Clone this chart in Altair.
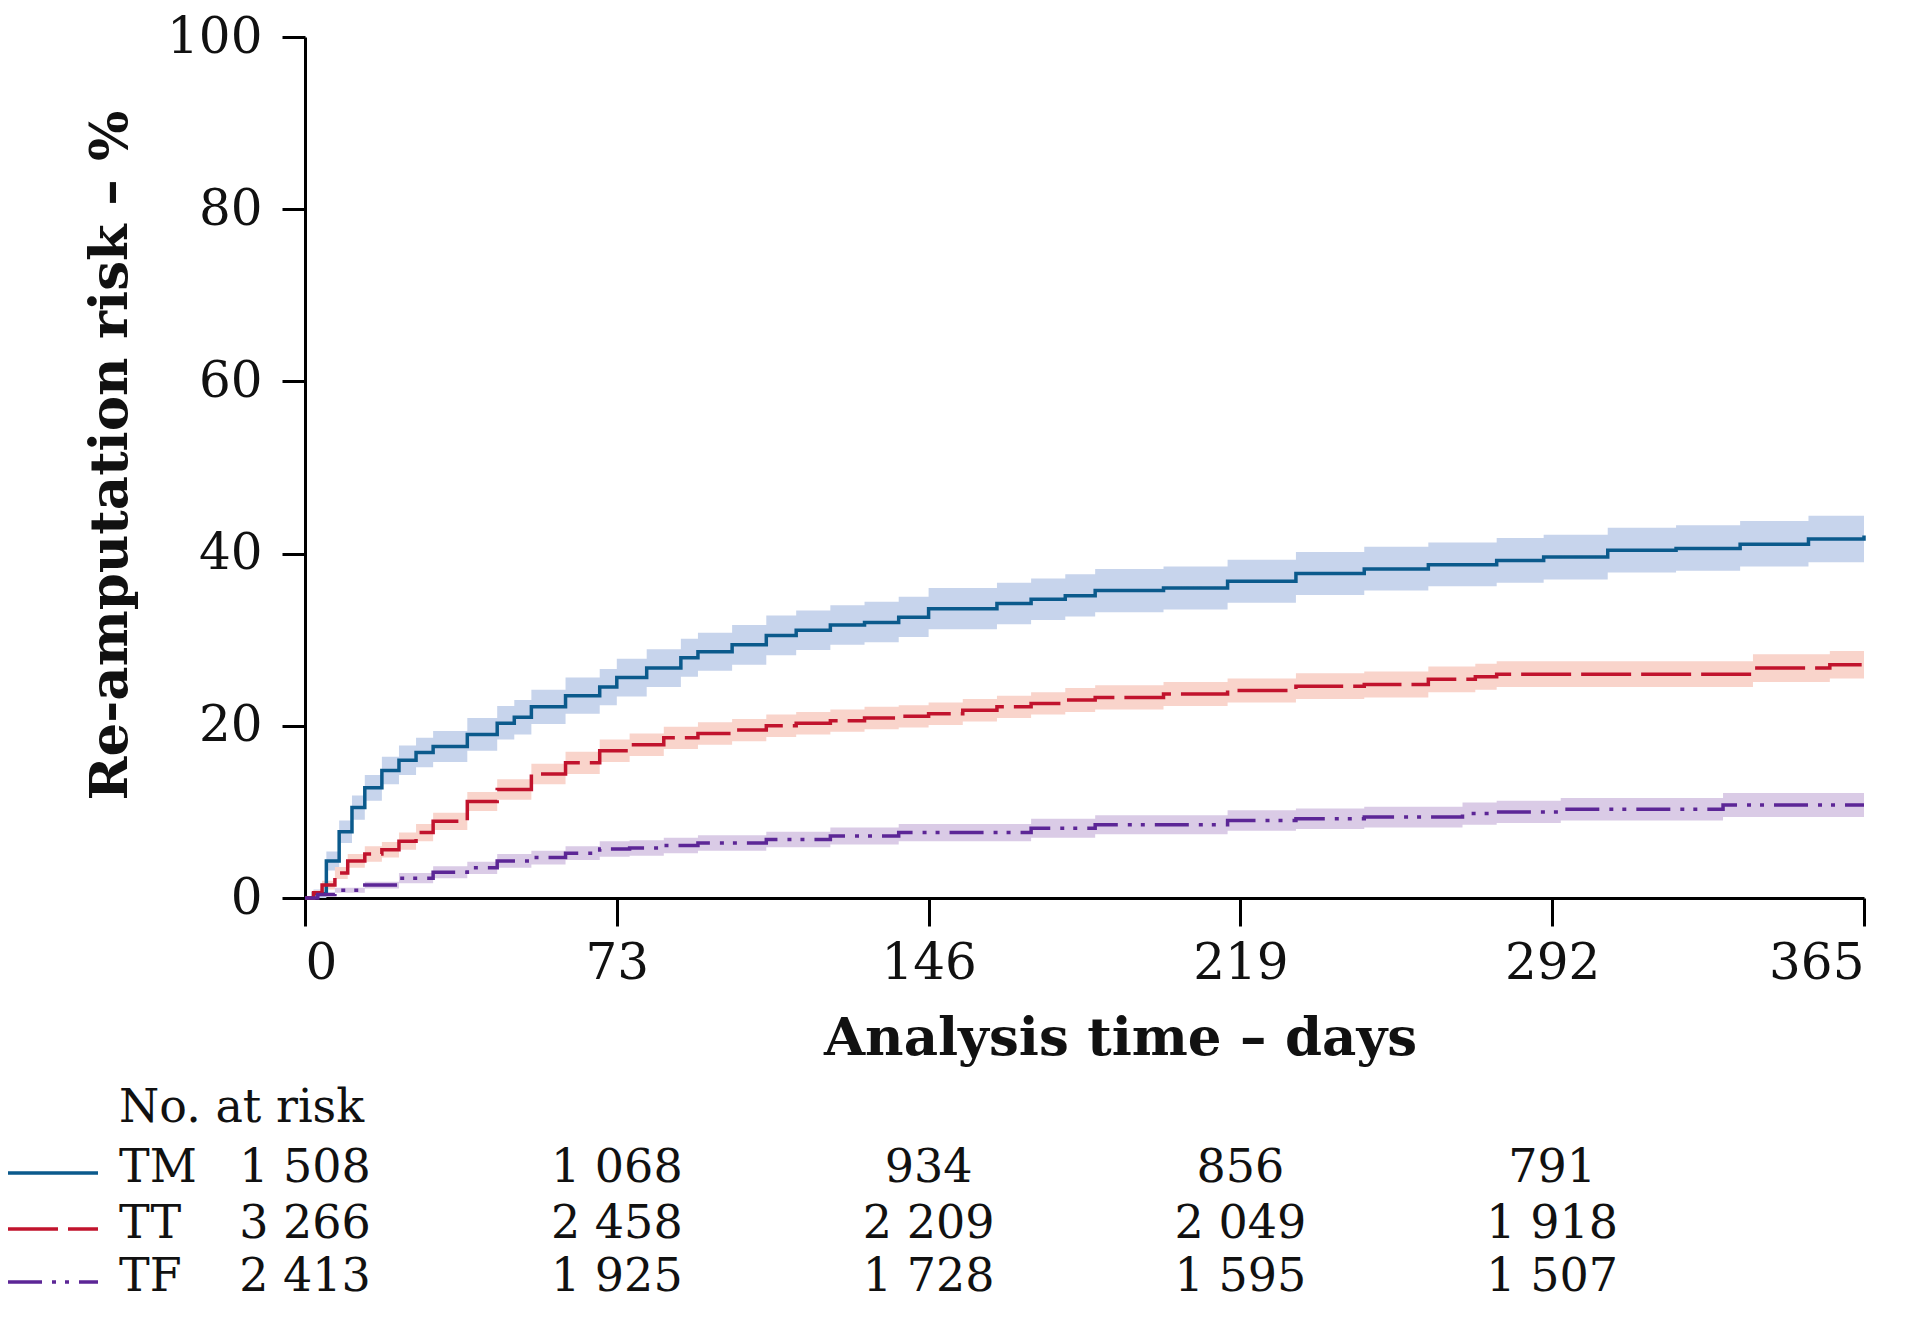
import altair as alt
import pandas as pd

# ---- data ----
TM_DAYS = [0, 2, 5, 8, 11, 14, 18, 22, 26, 30, 38, 45, 49, 53, 61, 69, 73, 80, 88, 92, 100, 108, 115, 123, 131,
           139, 146, 154, 162, 170, 178, 185, 201, 216, 232, 248, 263, 279, 290, 305, 321, 336, 352, 365]
TM_EST = [0, 0.5, 4.3, 7.7, 10.5, 12.8, 14.8, 16.0, 16.9, 17.6, 19.0, 20.3, 21.0, 22.2, 23.5, 24.5, 25.6, 26.7, 27.9,
          28.6, 29.4, 30.5, 31.1, 31.7, 32.0, 32.6, 33.6, 33.6, 34.2, 34.7, 35.1, 35.7, 36.0, 36.8, 37.7, 38.2, 38.7,
          39.2, 39.6, 40.4, 40.6, 41.1, 41.7, 42.1]
TM_LO = [0, 0, 3.2, 6.4, 9.1, 11.3, 13.2, 14.3, 15.2, 15.8, 17.1, 18.4, 19.0, 20.2, 21.4, 22.4, 23.4, 24.5, 25.7,
         26.4, 27.1, 28.2, 28.8, 29.4, 29.7, 30.3, 31.2, 31.2, 31.8, 32.3, 32.7, 33.2, 33.5, 34.3, 35.2, 35.7, 36.2,
         36.6, 37.0, 37.8, 38.0, 38.5, 39.0, 39.4]
TM_HI = [0, 1.0, 5.4, 9.0, 11.9, 14.3, 16.4, 17.7, 18.6, 19.4, 20.9, 22.3, 23.0, 24.2, 25.6, 26.6, 27.8, 28.9, 30.1,
         30.8, 31.7, 32.8, 33.4, 34.0, 34.4, 35.0, 36.0, 36.0, 36.6, 37.1, 37.6, 38.2, 38.5, 39.3, 40.2, 40.8, 41.3,
         41.8, 42.2, 43.0, 43.3, 43.8, 44.4, 44.8]

TT_DAYS = [0, 2, 4, 7, 10, 14, 18, 22, 26, 30, 38, 45, 53, 61, 69, 76, 84, 92, 100, 108, 115, 123, 131, 139, 146,
           154, 162, 170, 178, 185, 201, 216, 232, 248, 263, 274, 279, 290, 339, 357, 365]
TT_EST = [0, 0.6, 1.5, 2.9, 4.3, 5.1, 5.6, 6.6, 7.6, 8.9, 11.2, 12.6, 14.4, 15.7, 17.1, 17.8, 18.6, 19.1, 19.5, 20.0,
          20.3, 20.6, 20.9, 21.1, 21.4, 21.8, 22.2, 22.6, 23.0, 23.3, 23.7, 24.1, 24.6, 24.8, 25.4, 25.7, 26.0, 26.0,
          26.7, 27.1, 27.1]
TT_LO = [0, 0.3, 1.0, 2.2, 3.5, 4.2, 4.7, 5.6, 6.6, 7.9, 10.1, 11.4, 13.2, 14.4, 15.8, 16.5, 17.3, 17.8, 18.2, 18.7,
         19.0, 19.3, 19.6, 19.8, 20.1, 20.5, 20.9, 21.3, 21.6, 21.9, 22.3, 22.7, 23.1, 23.3, 23.9, 24.2, 24.5, 24.5,
         25.1, 25.5, 25.5]
TT_HI = [0, 0.9, 2.0, 3.6, 5.1, 6.0, 6.5, 7.6, 8.6, 9.9, 12.3, 13.8, 15.6, 17.0, 18.4, 19.1, 19.9, 20.4, 20.8, 21.3,
         21.6, 21.9, 22.2, 22.4, 22.7, 23.1, 23.5, 23.9, 24.4, 24.7, 25.1, 25.5, 26.1, 26.3, 26.9, 27.2, 27.5, 27.5,
         28.3, 28.7, 28.7]

TF_DAYS = [0, 3, 7, 14, 22, 30, 38, 45, 53, 61, 69, 76, 84, 92, 108, 123, 139, 154, 170, 185, 201, 216, 232, 248,
           263, 271, 279, 294, 328, 332, 365]
TF_EST = [0, 0.4, 0.9, 1.5, 2.3, 3.0, 3.5, 4.3, 4.7, 5.2, 5.7, 5.8, 6.1, 6.4, 6.8, 7.2, 7.6, 7.6, 8.1, 8.5, 8.5, 9.0,
          9.2, 9.4, 9.4, 9.8, 10.0, 10.3, 10.3, 10.8, 10.8]
TF_LO = [0, 0.2, 0.6, 1.1, 1.7, 2.3, 2.8, 3.5, 3.9, 4.4, 4.8, 4.9, 5.2, 5.5, 5.9, 6.2, 6.6, 6.6, 7.0, 7.4, 7.4, 7.8,
         8.0, 8.2, 8.2, 8.5, 8.7, 9.0, 9.0, 9.4, 9.4]
TF_HI = [0, 0.6, 1.2, 1.9, 2.9, 3.7, 4.2, 5.1, 5.5, 6.0, 6.6, 6.7, 7.0, 7.3, 7.7, 8.2, 8.6, 8.6, 9.2, 9.6, 9.6, 10.2,
         10.4, 10.6, 10.6, 11.1, 11.3, 11.6, 11.6, 12.2, 12.2]

GROUPS = ["TM", "TT", "TF"]
RISK_DAYS = [0, 73, 146, 219, 292]
TM_RISK = ["1 508", "1 068", "934", "856", "791"]
TT_RISK = ["3 266", "2 458", "2 209", "2 049", "1 918"]
TF_RISK = ["2 413", "1 925", "1 728", "1 595", "1 507"]
RISK_HEADER = "No. at risk"
X_TICKS = [0, 73, 146, 219, 292, 365]
Y_TICKS = [0, 20, 40, 60, 80, 100]
X_TITLE = "Analysis time – days"
Y_TITLE = "Re-amputation risk – %"

# ---- styles ----
FONT = "DejaVu Serif"
TOP = 29
W, H = 1559, 861
STYLE = {
    "TM": dict(line="#0b5a8c", band="#c7d4ec", dash=[1, 0], row_y=1131),
    "TT": dict(line="#c1132d", band="#f9d4cb", dash=[50, 10], row_y=1187),
    "TF": dict(line="#5c2696", band="#dacbe6", dash=[34, 10, 4, 9, 4, 10], row_y=1240),
}
SERIES = {
    "TM": (TM_DAYS, TM_EST, TM_LO, TM_HI, TM_RISK),
    "TT": (TT_DAYS, TT_EST, TT_LO, TT_HI, TT_RISK),
    "TF": (TF_DAYS, TF_EST, TF_LO, TF_HI, TF_RISK),
}

x_scale = alt.Scale(domain=[0, 365], nice=False, zero=False)
y_scale = alt.Scale(domain=[0, 100], nice=False)
x_axis = alt.Axis(values=X_TICKS, tickSize=28, labelPadding=12, labelFontSize=50, titleFontSize=53,
                  titleX=815, titleY=140, titleBaseline="middle", titleAlign="center")
y_axis = alt.Axis(values=Y_TICKS, tickSize=23, labelPadding=20, labelFontSize=50, titleFontSize=53,
                  titleX=-195, titleY=418, titleAngle=270, titleBaseline="middle", titleAlign="center")


def xe(field="day"):
    return alt.X(f"{field}:Q", scale=x_scale, axis=x_axis, title=X_TITLE)


def ye(field):
    return alt.Y(f"{field}:Q", scale=y_scale, axis=y_axis, title=Y_TITLE)


bands, lines, table = [], [], []
for g in GROUPS:
    days, est, lo, hi, risk = SERIES[g]
    st = STYLE[g]
    df = pd.DataFrame({"day": days, "est": est, "lo": lo, "hi": hi})
    bands.append(
        alt.Chart(df).mark_area(interpolate="step-after", color=st["band"], opacity=1)
        .encode(x=xe(), y=ye("lo"), y2="hi:Q")
    )
    lines.append(
        alt.Chart(df).mark_line(interpolate="step-after", color=st["line"], strokeWidth=3.5,
                                strokeDash=st["dash"])
        .encode(x=xe(), y=ye("est"))
    )
    rdf = pd.DataFrame({"day": RISK_DAYS, "n": risk})
    table.append(
        alt.Chart(rdf).mark_text(font=FONT, fontSize=46, align="center", baseline="middle", color="#111111")
        .encode(x=xe(), y=alt.value(st["row_y"]), text="n:N")
    )
    gdf = pd.DataFrame({"g": [g]})
    table.append(
        alt.Chart(gdf).mark_text(font=FONT, fontSize=46, align="left", baseline="middle", color="#111111")
        .encode(x=alt.value(-186), y=alt.value(st["row_y"]), text="g:N")
    )
    table.append(
        alt.Chart(gdf).mark_rule(color=st["line"], strokeWidth=3.5, strokeDash=st["dash"])
        .encode(x=alt.value(-297), x2=alt.value(-207), y=alt.value(st["row_y"] + 5))
    )

hdf = pd.DataFrame({"h": [RISK_HEADER]})
table.append(
    alt.Chart(hdf).mark_text(font=FONT, fontSize=46, align="left", baseline="middle", color="#111111")
    .encode(x=alt.value(-186), y=alt.value(1071), text="h:N")
)

chart = (
    alt.layer(*bands, *lines, *table)
    .properties(
        width=W, height=H,
        autosize=alt.AutoSizeParams(type="none"),
        padding={"left": 297, "top": TOP, "right": 48, "bottom": 410},
        background="white",
    )
    .configure_view(stroke=None)
    .configure_axis(
        grid=False, domainColor="black", tickColor="black", domainWidth=3, tickWidth=3,
        labelFont=FONT, titleFont=FONT, labelColor="#111111", titleColor="#111111",
        titleFontWeight="bold", labelFontWeight="normal",
    )
)

chart.save("out.html", embed_options={"renderer": "svg", "actions": False})
